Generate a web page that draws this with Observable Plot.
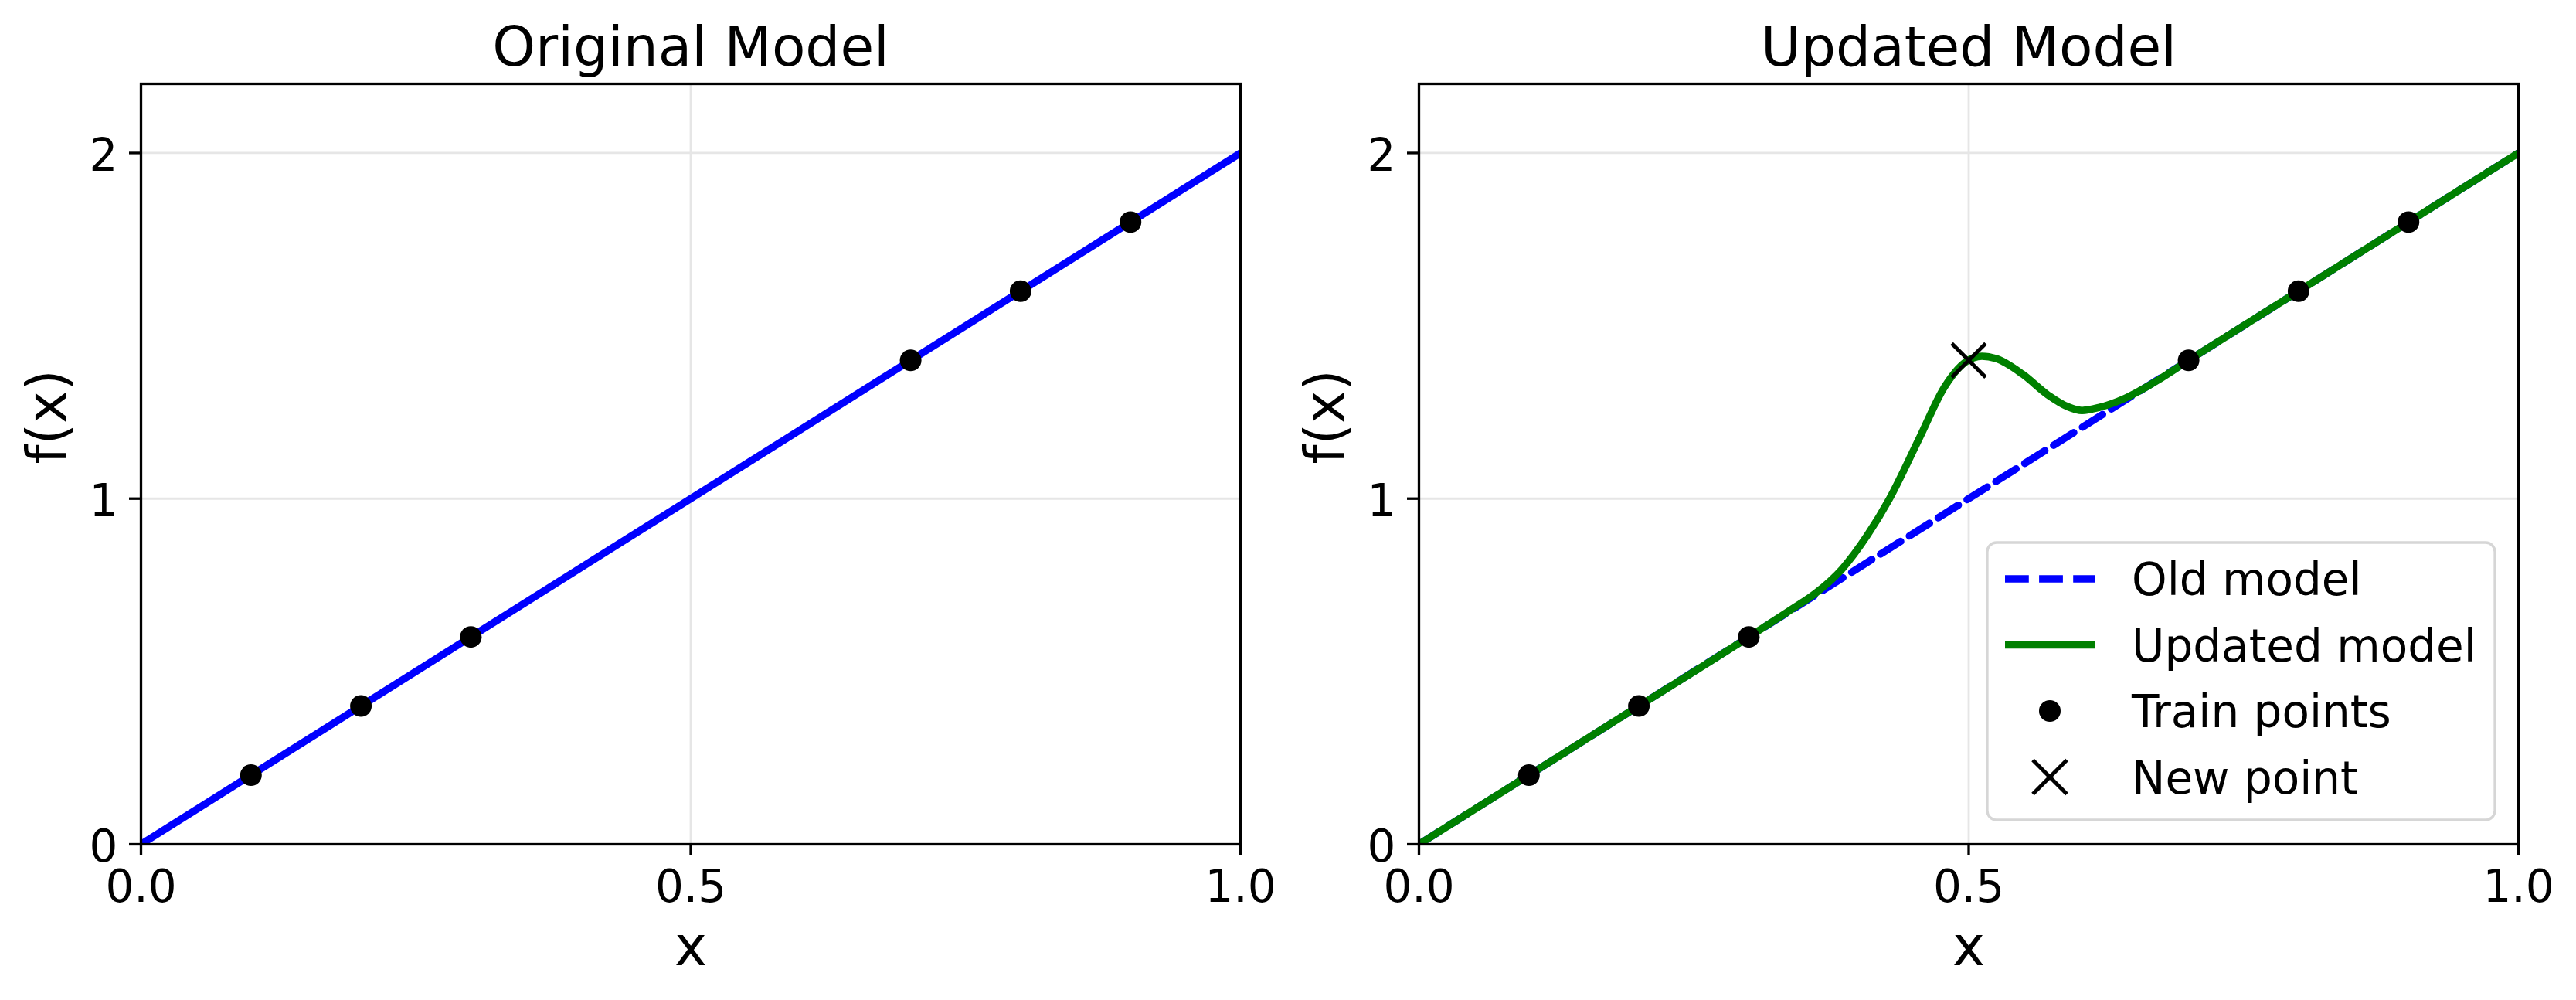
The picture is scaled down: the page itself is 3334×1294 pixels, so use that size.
<!DOCTYPE html>
<html><head><meta charset="utf-8">
<script src="https://cdn.jsdelivr.net/npm/d3@7"></script>
<script src="https://cdn.jsdelivr.net/npm/@observablehq/plot@0.6"></script>
<style>
html,body{margin:0;padding:0;background:#fff;}
#wrap{position:relative;width:3334px;height:1294px;overflow:hidden;font-family:"DejaVu Sans";background:#fff;}
.panel{position:absolute;top:0;}
#legend{position:absolute;left:0;top:0;pointer-events:none;}
</style></head><body>
<div id="wrap"><div id="left" class="panel" style="left:0px"></div><div id="right" class="panel" style="left:1667px"></div></div>
<script>
// ---- data ----
const xTicks = [0, 0.5, 1.0];
const yTicks = [0, 1, 2];
const xDomain = [0, 1];
const yDomain = [0, 2.2];
const origX = [0, 1];
const origY = [0, 2];
const trainX = [0.1, 0.2, 0.3, 0.7, 0.8, 0.9];
const trainY = [0.2, 0.4, 0.6, 1.4, 1.6, 1.8];
const newX = [0.5];
const newY = [1.4];
const updX = [0, 0.1, 0.2, 0.3, 0.338, 0.361, 0.385, 0.408, 0.428, 0.455, 0.478, 0.497, 0.512, 0.525, 0.549, 0.572, 0.59, 0.603, 0.619, 0.642, 0.666, 0.7, 0.8, 0.9, 1.0];
const updY = [0, 0.2, 0.4, 0.6, 0.678, 0.727, 0.797, 0.895, 1.0, 1.174, 1.323, 1.395, 1.412, 1.405, 1.36, 1.30, 1.266, 1.255, 1.264, 1.290, 1.331, 1.4, 1.6, 1.8, 2.0];
const titles = ["Original Model", "Updated Model"];
const xLabel = "x";
const yLabel = "f(x)";
const legendLabels = ["Old model", "Updated model", "Train points", "New point"];

const BLUE = "#0000ff", GREEN = "#008000", LW = 9.5;

function panel(title, marginLeft, marginRight, marks) {
  return Plot.plot({
    width: 1667, height: 1294,
    marginLeft, marginRight, marginTop: 108, marginBottom: 202,
    x: {domain: xDomain},
    y: {domain: yDomain},
    style: {fontFamily: "'DejaVu Sans'", fontSize: "58px", background: "white", color: "black", overflow: "visible"},
    marks: [
      Plot.gridX(xTicks, {stroke: "#e6e6e6", strokeOpacity: 1, strokeWidth: 2.8}),
      Plot.gridY(yTicks, {stroke: "#e6e6e6", strokeOpacity: 1, strokeWidth: 2.8}),
      ...marks,
      Plot.frame({stroke: "black", strokeWidth: 3.3}),
      Plot.axisX(xTicks, {tickSize: 15, strokeWidth: 3.3, fill: "none", label: null}),
      Plot.axisX(xTicks, {tickSize: 15, tickPadding: 18, stroke: "none", fontSize: 58, tickFormat: d => d.toFixed(1), label: null}),
      Plot.axisY(yTicks, {tickSize: 15, strokeWidth: 3.3, fill: "none", label: null}),
      Plot.axisY(yTicks, {tickSize: 15, tickPadding: 15, stroke: "none", fontSize: 58, dy: 4, tickFormat: d => String(d), label: null}),
      Plot.text([title], {frameAnchor: "top", dy: -24, lineAnchor: "bottom", fontSize: 71, text: d => d, fill: "black"}),
      Plot.text([xLabel], {frameAnchor: "bottom", dy: 156.5, lineAnchor: "bottom", fontSize: 71, text: d => d, fill: "black"}),
      Plot.text([yLabel], {frameAnchor: "left", dx: -98, rotate: -90, lineAnchor: "bottom", fontSize: 71, text: d => d, fill: "black"})
    ]
  });
}

const left = panel(titles[0], 182, 62, [
  Plot.line(origX, {x: origX, y: origY, stroke: BLUE, strokeWidth: LW, clip: true}),
  Plot.dot(trainX, {x: trainX, y: trainY, r: 14, fill: "black"})
]);
document.getElementById("left").appendChild(left);

const right = panel(titles[1], 169, 75, [
  Plot.line(origX, {x: origX, y: origY, stroke: BLUE, strokeWidth: LW, strokeDasharray: "30.8,13.3", clip: true}),
  Plot.line(updX, {x: updX, y: updY, stroke: GREEN, strokeWidth: LW, curve: "monotone-x", strokeLinejoin: "round", clip: true}),
  Plot.dot(trainX, {x: trainX, y: trainY, r: 14, fill: "black"}),
  Plot.dot(newX, {x: newX, y: newY, symbol: "times", r: 20, stroke: "black", fill: "none", strokeWidth: 5})
]);
document.getElementById("right").appendChild(right);

// ---- legend ----
const svg = d3.select("#wrap").append("svg").attr("id", "legend")
  .attr("width", 3334).attr("height", 1294);
const box = {x: 2572, y: 702, w: 3229 - 2572, h: 1061 - 702};
svg.append("rect").attr("x", box.x).attr("y", box.y).attr("width", box.w).attr("height", box.h)
  .attr("rx", 12).attr("ry", 12).attr("fill", "white").attr("fill-opacity", 0.8)
  .attr("stroke", "#d6d6d6").attr("stroke-width", 3.3);
const hx0 = 2595, hx1 = 2711, hc = (hx0 + hx1) / 2, tx = 2759;
legendLabels.forEach((lab, i) => {
  const cy = 749 + i * 85.5;
  if (i === 0) svg.append("line").attr("x1", hx0).attr("x2", hx1).attr("y1", cy).attr("y2", cy)
    .attr("stroke", BLUE).attr("stroke-width", LW).attr("stroke-dasharray", "30.8,13.3");
  if (i === 1) svg.append("line").attr("x1", hx0).attr("x2", hx1).attr("y1", cy).attr("y2", cy)
    .attr("stroke", GREEN).attr("stroke-width", LW);
  if (i === 2) svg.append("circle").attr("cx", hc).attr("cy", cy).attr("r", 14).attr("fill", "black");
  if (i === 3) svg.append("path").attr("d", `M${hc-22},${cy-22}L${hc+22},${cy+22}M${hc-22},${cy+22}L${hc+22},${cy-22}`)
    .attr("stroke", "black").attr("stroke-width", 5).attr("fill", "none");
  svg.append("text").attr("x", tx).attr("y", cy + 21).attr("font-family", "DejaVu Sans").attr("font-size", 58)
    .attr("fill", "black").text(lab);
});
</script>
</body></html>
